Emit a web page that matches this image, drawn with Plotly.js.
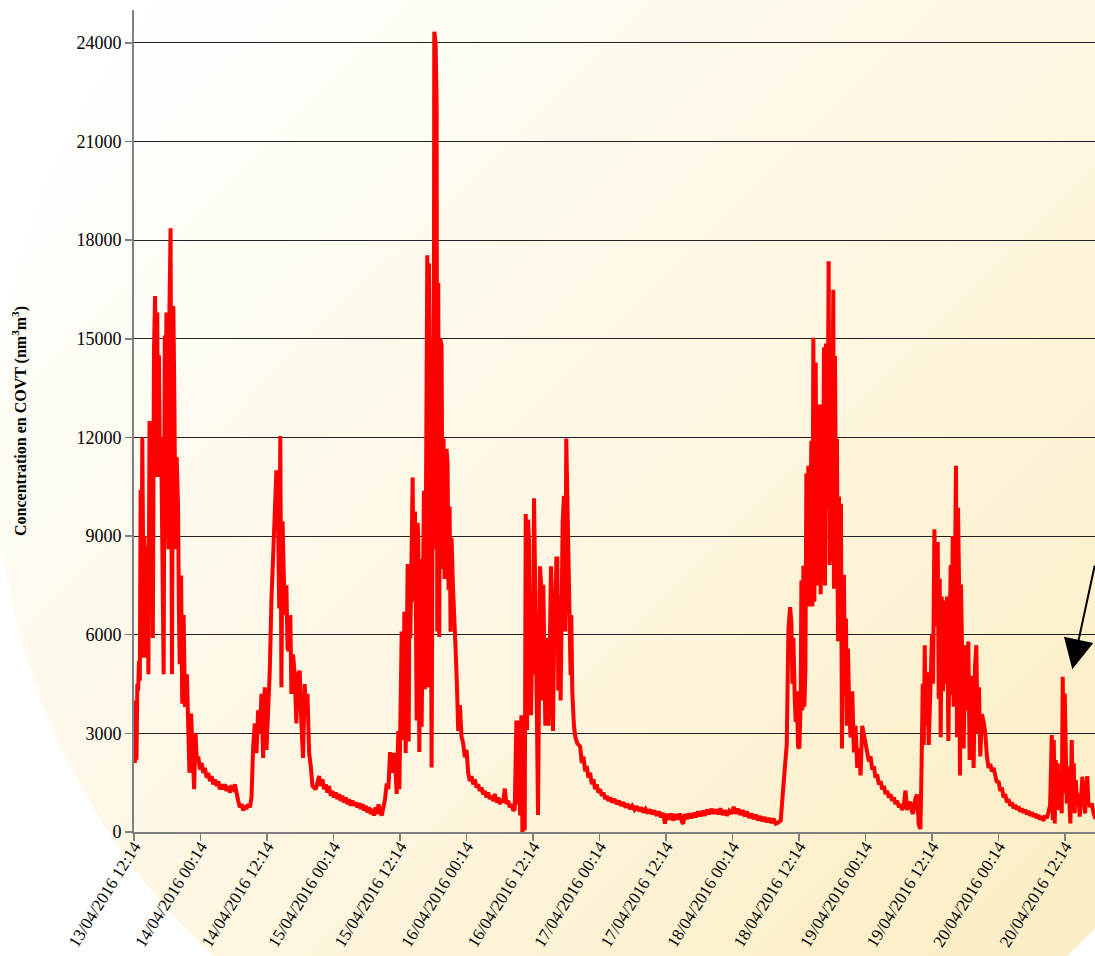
<!DOCTYPE html>
<html>
<head>
<meta charset="utf-8">
<script src="https://cdn.plot.ly/plotly-3.0.1.min.js"></script>
<style>
  html, body { margin:0; padding:0; background:#ffffff; }
  #wrap { position:relative; width:1095px; height:956px; overflow:hidden; background:#ffffff; }
  #bg { position:absolute; left:-5px; top:-225px; width:1290px; height:1350px; border-radius:50%;
        background: linear-gradient(135deg, #ffffff 0%, #fffefb 18%, #fdf9ec 36%, #fdf6e1 52%, #fcf0cc 74%, #fbebbd 100%); }
  #chart { position:absolute; left:0; top:0; width:1095px; height:956px; }
</style>
</head>
<body>
<div id="wrap"><div id="bg"></div><div id="chart"></div></div>
<script>
// Hours elapsed since 13/04/2016 12:14
const hours = [
0.00,0.15,0.30,0.45,0.60,0.75,0.90,1.05,1.20,1.32,1.50,1.70,1.90,2.05,2.20,2.40,2.60,2.80,3.00,3.20,3.30,3.40,3.60,3.80,4.00,4.20,4.30,4.50,4.70,4.90,5.35,5.55,5.70,5.85,6.00,6.20,6.40,6.60,6.75,6.85,7.00,7.10,7.30,7.50,7.70,7.95,8.10,8.25,8.50,8.70,8.95,9.20,9.55,9.85,10.00,10.30,10.55,10.85,11.10,11.35,
11.6,11.9,12.2,12.5,12.8,13.1,13.4,13.7,14.0,14.3,14.6,14.9,15.2,15.5,15.8,16.1,16.4,16.7,17.0,17.3,17.6,17.9,18.2,18.5,18.8,19.1,19.4,19.7,20.0,20.3,20.6,20.9,21.2,
21.5,21.8,22.1,22.4,22.7,23.0,23.3,23.6,23.9,24.2,24.5,24.8,25.1,25.4,25.7,25.9,26.2,26.4,26.6,26.8,27.0,27.2,27.5,27.7,27.9,28.2,28.4,28.7,29.0,29.3,29.6,29.9,30.2,30.5,30.8,31.0,31.3,31.6,31.9,32.2,32.8,
33.4,33.7,34.0,34.3,34.6,34.9,35.2,35.5,35.8,36.1,36.4,36.7,37.0,37.3,37.6,37.9,38.2,38.5,38.8,39.1,39.4,39.7,40.0,40.3,40.6,40.9,41.2,41.5,41.8,42.1,42.4,42.7,43.0,43.3,43.6,43.9,
44.1,44.7,45.3,45.6,45.9,46.2,46.5,46.8,47.1,47.4,47.7,47.88,48.06,48.3,48.6,48.78,49.02,49.2,49.38,49.56,49.68,49.86,50.1,50.28,50.46,50.7,50.88,51.0,51.18,51.3,51.48,51.72,51.9,52.08,52.32,52.5,52.68,52.92,53.1,53.22,53.4,53.58,53.7,53.88,54.06,54.18,54.42,54.6,54.72,54.9,55.08,55.26,55.5,55.68,55.86,56.04,56.22,56.4,56.58,56.76,56.94,57.12,57.3,57.54,57.78,58.02,58.26,58.5,58.8,59.1,59.4,59.7,60.0,
60.3,60.6,60.9,61.2,61.5,61.8,62.1,62.4,62.7,63.0,63.3,63.6,63.9,64.2,64.5,64.8,65.1,65.4,65.7,66.0,66.3,66.6,66.9,67.2,67.5,67.8,68.1,68.4,68.7,
69.0,69.18,69.42,69.66,69.9,70.08,70.26,70.5,70.68,70.92,71.1,71.28,71.46,71.64,71.82,72.0,72.18,72.36,72.54,72.72,72.9,73.08,73.26,73.5,73.68,73.86,74.04,74.22,74.4,74.64,74.82,75.06,75.24,75.42,75.6,75.78,76.02,76.2,76.38,76.56,76.74,76.98,77.16,77.34,77.58,77.82,78.0,78.18,78.42,78.6,78.78,78.9,79.08,79.38,79.62,79.98,
80.5,80.8,81.1,81.4,81.7,82.0,82.3,82.6,82.9,83.2,83.5,83.8,84.1,84.4,84.7,85.0,85.3,85.6,85.9,86.3,86.7,87.1,87.5,87.9,88.3,88.7,89.1,89.5,89.9,90.3,90.7,91.1,91.5,91.9,92.3,92.7,93.1,93.5,93.9,94.3,94.7,95.1,95.5,95.8,96.1,96.5,96.9,97.3,97.7,98.1,98.5,98.9,99.1,99.4,99.8,100.2,100.6,101.0,101.4,101.8,102.2,102.6,103.0,103.4,103.8,104.2,104.6,105.0,105.4,105.8,106.2,106.6,107.0,107.4,107.8,108.2,108.6,109.0,109.4,109.8,110.2,110.6,111.0,111.4,111.8,112.2,112.6,113.0,113.4,113.8,114.2,114.6,115.0,115.4,115.8,
116.1,116.7,117.0,117.3,117.6,117.78,117.9,118.08,118.38,118.62,118.8,118.98,119.22,119.4,119.58,119.82,120.06,120.3,120.42,120.6,120.78,120.96,121.14,121.32,121.5,121.68,121.86,122.04,122.22,122.4,122.58,122.76,123.0,123.18,123.36,123.54,123.72,123.9,124.08,124.26,124.5,124.68,124.86,125.1,125.34,125.52,125.7,125.88,126.06,126.18,126.3,126.48,126.66,126.84,127.02,127.2,127.38,127.56,127.74,127.92,128.1,128.28,128.46,128.64,128.82,129.06,129.3,129.6,129.9,130.2,130.5,130.8,131.1,131.4,131.7,132.0,
132.3,132.6,132.9,133.2,133.5,133.8,134.1,134.4,134.7,135.0,135.3,135.6,135.9,136.2,136.5,136.8,137.1,137.4,137.7,138.0,138.3,138.6,138.9,139.2,139.5,139.8,140.1,140.4,140.58,141.0,141.3,141.6,
141.9,142.08,142.32,142.5,142.68,142.86,143.1,143.4,143.7,144.0,144.18,144.42,144.6,144.78,145.02,145.2,145.38,145.56,145.74,145.98,146.22,146.46,146.7,146.94,147.18,147.36,147.54,147.72,147.9,148.14,148.32,148.5,148.68,148.86,149.04,149.22,149.46,149.7,150.0,150.3,150.54,150.78,151.02,151.26,151.5,151.74,151.98,152.22,152.46,152.7,153.0,153.3,153.6,153.9,154.2,154.5,154.8,155.1,
155.4,155.7,156.0,156.3,156.6,156.9,157.2,157.5,157.8,158.1,158.4,158.7,159.0,159.3,159.6,159.9,160.2,160.5,160.8,161.1,161.4,161.7,162.0,162.3,162.6,162.9,163.2,163.5,163.8,164.1,164.4,164.7,165.0,165.3,
165.6,165.78,165.96,166.14,166.32,166.5,166.68,166.92,167.16,167.4,167.58,167.76,167.94,168.12,168.3,168.48,168.72,168.96,169.2,169.38,169.56,169.74,169.92,170.16,170.4,170.64,170.88,171.12,171.36,171.6,172.0,172.2,172.5,172.8,173.1,173.5
];
// Concentration en COVT
const conc = [
4000,2100,3900,2200,4500,4300,5200,4600,10400,5300,12000,7200,9000,5300,8700,8100,4800,12500,11800,8400,10000,5900,14600,16300,10800,15800,11200,14500,10800,12000,4800,15100,13000,15800,10500,8600,15900,18360,10000,4800,13000,16000,12800,8600,11400,9900,6800,5100,7800,3900,6600,3800,4800,3000,1800,3600,2600,1300,3000,2100,
2300,1900,2100,1800,1950,1650,1800,1550,1700,1450,1600,1400,1550,1300,1450,1300,1450,1250,1400,1200,1350,1300,1450,1100,950,750,850,650,800,700,850,750,1050,
2600,3300,2400,3700,3000,4200,2250,4400,2500,3800,4900,7050,8500,9350,11000,10800,6800,12040,4400,9450,7800,6600,7500,5600,5500,6600,4200,5400,4800,3300,4800,4900,3300,2250,4500,3700,4200,2400,2000,1400,1300,
1700,1400,1600,1300,1450,1200,1400,1100,1250,1050,1200,1000,1150,950,1100,900,1050,850,1000,800,950,800,900,750,880,700,850,650,800,600,750,550,700,500,750,550,
840,500,1000,1480,1300,2430,1800,2400,2200,1160,3070,1300,3700,6100,2800,6700,2400,7360,8150,2750,7200,5900,8000,10780,7000,9750,6300,3390,9400,8900,2430,8300,3200,8000,10380,4340,13880,17540,4400,17300,14500,5200,1960,10400,8600,24340,24000,22150,6100,16700,5930,15000,14800,8000,11970,7700,7840,11650,11180,7360,9900,6090,8950,7520,6090,5610,4500,3070,3860,2900,2700,2270,2500,
1800,1550,1700,1450,1600,1350,1450,1250,1350,1150,1250,1050,1200,1000,1100,950,1160,900,1050,850,1000,900,1320,850,950,750,850,650,700,
3390,840,3390,500,3550,0,500,50,9670,3100,9500,8800,4800,3550,5600,4800,10150,8400,6400,3230,520,4200,8080,7400,4000,7520,4300,3230,5600,5900,3230,6880,8080,7200,3070,5600,6100,8320,8320,4300,7200,4000,6400,9430,10220,6100,11970,10220,8000,7200,4770,6600,4300,3230,2900,2700,
2600,2100,2300,1850,2000,1650,1800,1450,1600,1300,1450,1200,1300,1100,1200,1000,1100,950,1050,900,1000,850,950,800,900,750,850,700,800,680,780,640,740,600,700,570,680,540,650,500,620,450,580,250,550,380,560,350,540,380,560,300,250,540,400,560,420,580,450,620,480,640,500,680,540,700,560,680,540,720,520,660,500,640,560,760,560,700,520,660,480,620,430,560,400,520,360,480,330,450,300,420,280,400,250,
270,350,1020,1840,2300,2650,4050,6140,6840,6370,4510,5900,4050,3350,4280,2600,2540,4050,7650,3700,8100,3810,4900,10900,8120,11140,6860,11140,11900,6860,15030,7000,14280,7500,12300,9300,13000,7230,12900,7650,14740,7500,14860,9850,17360,8120,14480,8240,15630,16490,7400,14480,9850,11950,5800,10200,6370,9980,2540,7530,7820,4200,6490,3230,5580,3700,2880,4280,2420,3230,1950,2540,1720,3230,3000,2770,
2420,2150,2300,1900,2000,1650,1750,1450,1550,1300,1400,1150,1250,1050,1150,950,1050,850,950,750,850,670,800,1260,670,850,910,600,560,1020,1140,210,
90,1720,4510,2650,5680,3230,4860,2650,4280,6020,4510,9210,7580,6260,8820,4050,7700,2880,7160,4280,7040,4510,7160,2770,5910,8120,4160,9000,3810,9860,11140,2880,9860,7770,1720,7530,5210,2540,5680,3700,5790,2190,4750,3230,1950,4980,5680,3000,4400,2300,3580,3350,3000,2300,1950,2070,1840,1950,
1680,1500,1550,1250,1350,1050,1150,900,1000,800,900,720,820,680,780,620,720,580,680,540,640,500,600,460,560,420,520,380,480,340,500,420,600,820,
2950,365,2800,260,2190,970,2090,670,1170,570,4720,1170,4210,2190,870,1990,970,260,2800,1170,2090,570,1580,970,1170,470,970,1680,1170,570,1700,870,770,870,600,400
];
const yTicks = [0,3000,6000,9000,12000,15000,18000,21000,24000];

const t0 = Date.UTC(2016,3,13,12,14);
function fmt(ms){ return new Date(ms).toISOString().slice(0,19).replace('T',' '); }
const xs = hours.map(h => fmt(t0 + h*3600e3));

const serif = '"Liberation Serif", "Times New Roman", serif';

const trace = {
  x: xs, y: conc, type: 'scatter', mode: 'lines',
  line: {color: '#ff0000', width: 4},
  hoverinfo: 'skip'
};

const layout = {
  width: 1095, height: 956,
  margin: {l:134, r:0, t:10, b:124},
  paper_bgcolor: 'rgba(0,0,0,0)',
  plot_bgcolor: 'rgba(0,0,0,0)',
  showlegend: false,
  font: {family: serif, color: '#000000', size: 17},
  xaxis: {
    type: 'date',
    range: [fmt(t0), fmt(t0 + 173.4*3600e3)],
    tick0: fmt(t0), dtick: 12*3600e3,
    tickformat: '%d/%m/%Y %H:%M',
    tickangle: -58,
    ticks: 'outside', ticklen: 7, tickwidth: 1.5, tickcolor: '#808080',
    ticklabelstandoff: -11,
    showline: true, linecolor: '#808080', linewidth: 2,
    showgrid: false, zeroline: false,
    tickfont: {family: serif, size: 17, color: '#000'},
    automargin: false
  },
  yaxis: {
    range: [0, 25000],
    tickvals: yTicks,
    tickformat: 'd',
    ticks: 'outside', ticklen: 7, tickwidth: 1.5, tickcolor: '#808080',
    showline: true, linecolor: '#808080', linewidth: 2,
    showgrid: true, gridcolor: '#222222', gridwidth: 1,
    zeroline: false,
    tickfont: {family: serif, size: 18, color: '#000'},
    title: {text: '<b>Concentration en COVT (nm<sup>3</sup>m<sup>3</sup>)</b>', font: {family: serif, size: 16, color: '#000'}, standoff: 46},
    automargin: false
  },
  annotations: [{
    x: fmt(t0 + 169.3*3600e3), y: 4950, xref: 'x', yref: 'y',
    text: '', showarrow: true, arrowhead: 2, arrowsize: 3, arrowwidth: 2, arrowcolor: '#000000',
    ax: 32, ay: -105
  }]
};

Plotly.newPlot('chart', [trace], layout, {displayModeBar: false, staticPlot: true});
</script>
</body>
</html>
